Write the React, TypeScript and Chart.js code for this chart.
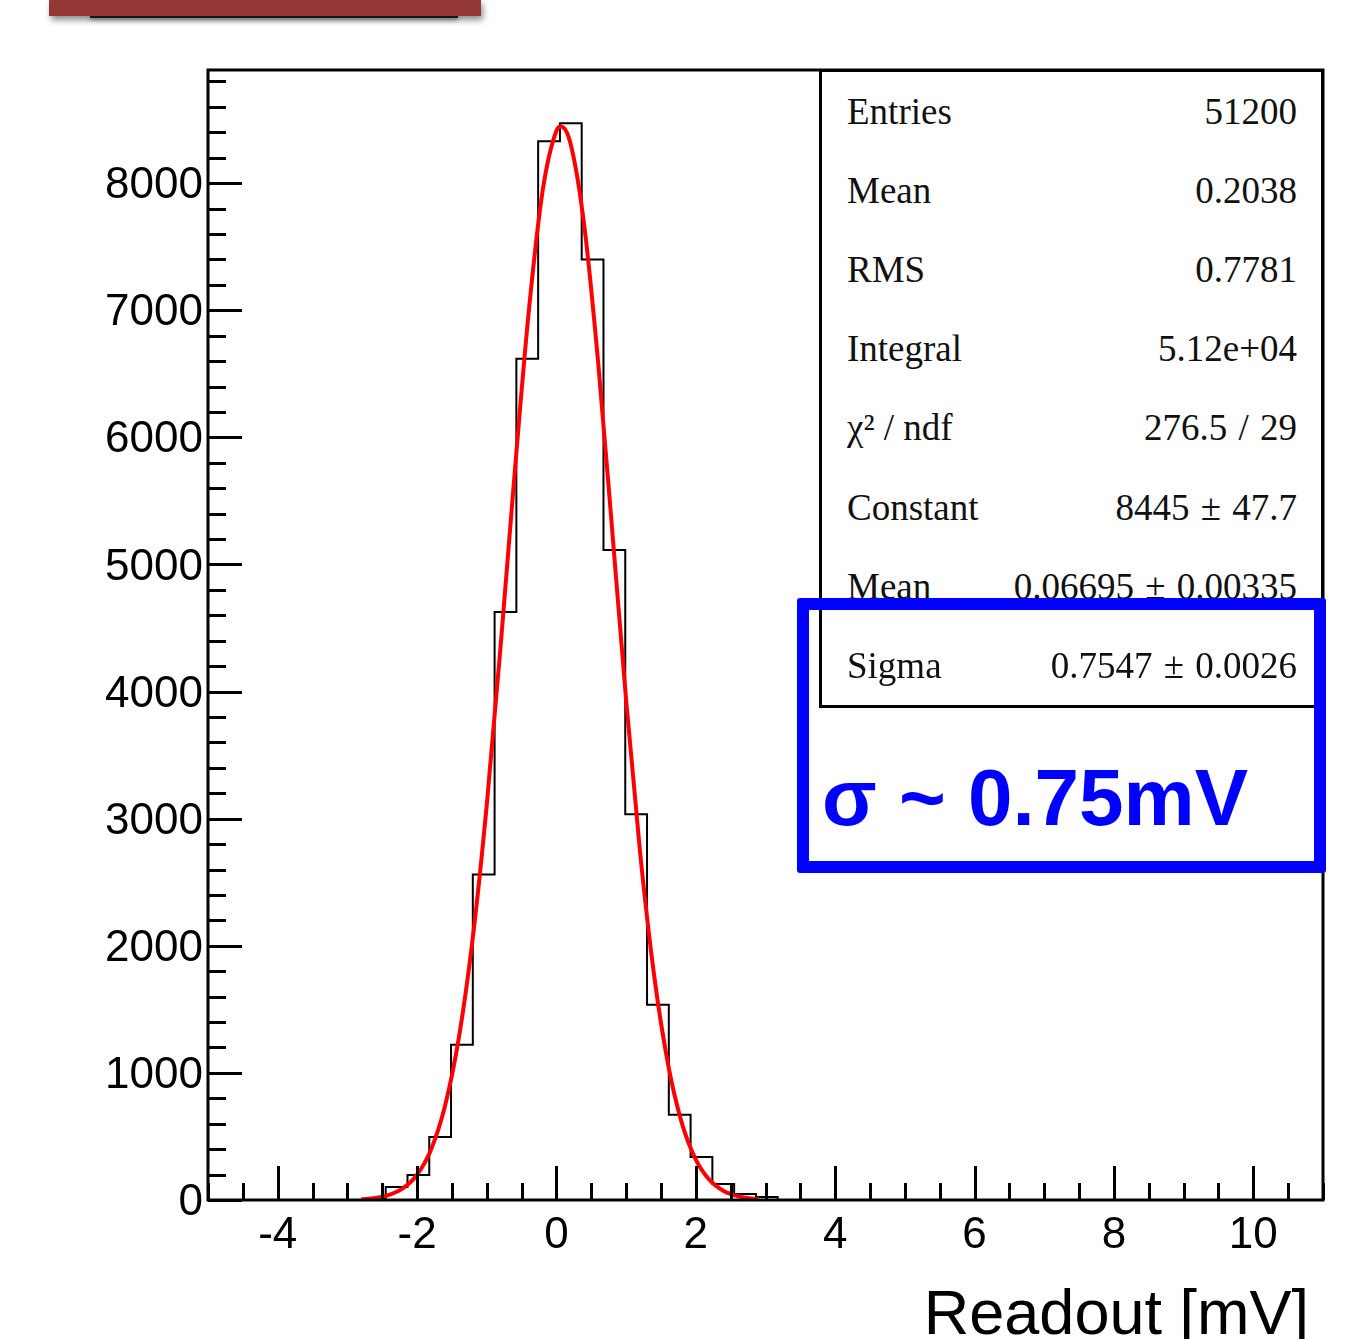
import React, { useEffect, useRef } from "react";
import { Chart, registerables } from "chart.js";

Chart.register(...registerables);

// ---- Data ----
const binLowEdges = [
  -2.7625, -2.45, -2.1375, -1.825, -1.5125, -1.2, -0.8875, -0.575, -0.2625,
  0.05, 0.3625, 0.675, 0.9875, 1.3, 1.6125, 1.925, 2.2375, 2.55, 2.8625,
];
const binUpperEdge = 3.175;
const binCounts = [
  8, 102, 197, 496, 1221, 2561, 4626, 6619, 8330,
  8471, 7400, 5114, 3034, 1537, 670, 339, 126, 47, 24,
];

const fitX = [
  -2.8, -2.6, -2.4, -2.2, -2.0, -1.8, -1.6, -1.4, -1.2, -1.0, -0.8, -0.6, -0.4,
  -0.2, 0.0, 0.067, 0.2, 0.4, 0.6, 0.8, 1.0, 1.2, 1.4, 1.6, 1.8, 2.0, 2.2, 2.4,
  2.6, 2.8, 2.9,
];
const fitY = [
  6, 16, 40, 93, 199, 396, 737, 1277, 2063, 3108, 4365, 5715, 6973,
  7933, 8412, 8445, 8315, 7662, 6581, 5270, 3933, 2737, 1775, 1073, 605, 318, 156, 71,
  30, 12, 7,
];

const xMajorTicks = [-4, -2, 0, 2, 4, 6, 8, 10];
const yMajorTicks = [0, 1000, 2000, 3000, 4000, 5000, 6000, 7000, 8000];
const xRange = [-5, 11];
const yRange = [0, 8890];
const xMinorStep = 0.5;
const yMinorStep = 200;

const statLabels = ["Entries", "Mean", "RMS", "Integral", "χ² / ndf", "Constant", "Mean", "Sigma"];
const statValues = [
  "51200",
  "0.2038",
  "0.7781",
  "5.12e+04",
  "276.5 / 29",
  "8445 ± 47.7",
  "0.06695 ± 0.00335",
  "0.7547 ± 0.0026",
];

const axisTitle = "Readout [mV]";
const annotation = "σ ~ 0.75mV";

const SANS = "'Liberation Sans', Arial, Helvetica, sans-serif";
const SERIF = "'Liberation Serif', 'Times New Roman', serif";

const framePlugin = {
  id: "rootFrame",
  afterDatasetsDraw(chart: any) {
    const { ctx, chartArea: a, scales } = chart;
    const xs = scales.x;
    const ys = scales.y;
    ctx.save();
    ctx.strokeStyle = "#000";
    ctx.lineWidth = 3;
    ctx.beginPath();
    for (let v = xRange[0]; v <= xRange[1] + 1e-9; v += xMinorStep) {
      const px = Math.round(xs.getPixelForValue(v)) + 0.5;
      const len = xMajorTicks.includes(v) ? 34 : 17;
      ctx.moveTo(px, a.bottom);
      ctx.lineTo(px, a.bottom - len);
    }
    for (let v = yRange[0]; v <= yRange[1] + 1e-9; v += yMinorStep) {
      const py = Math.round(ys.getPixelForValue(v)) + 0.5;
      const len = yMajorTicks.includes(v) ? 34 : 18;
      ctx.moveTo(a.left, py);
      ctx.lineTo(a.left + len, py);
    }
    ctx.stroke();
    ctx.strokeRect(a.left, a.top, a.right - a.left, a.bottom - a.top);
    ctx.restore();
  },
};

export default function App() {
  const ref = useRef<HTMLCanvasElement>(null);

  useEffect(() => {
    if (!ref.current) return;
    const histPts = [
      { x: binLowEdges[0], y: 0 },
      ...binLowEdges.map((x, i) => ({ x, y: binCounts[i] })),
      { x: binUpperEdge, y: 0 },
    ];
    const fitPts = fitX.map((x, i) => ({ x, y: fitY[i] }));

    const chart = new Chart(ref.current, {
      type: "line",
      data: {
        datasets: [
          {
            data: fitPts,
            borderColor: "#ff0000",
            borderWidth: 4,
            pointRadius: 0,
            cubicInterpolationMode: "monotone",
            fill: false,
          },
          {
            data: histPts,
            borderColor: "#000000",
            borderWidth: 2,
            pointRadius: 0,
            stepped: "before",
            fill: false,
          },
        ],
      },
      options: {
        animation: false,
        responsive: false,
        devicePixelRatio: 1,
        layout: { padding: { left: 0, right: 31, top: 70, bottom: 0 } },
        plugins: { legend: { display: false }, tooltip: { enabled: false } },
        scales: {
          x: {
            type: "linear",
            min: xRange[0],
            max: xRange[1],
            grid: { display: false, drawTicks: false },
            border: { display: false },
            afterBuildTicks: (s: any) => {
              s.ticks = xMajorTicks.map((v) => ({ value: v }));
            },
            afterFit: (s: any) => {
              s.height = 139;
            },
            ticks: {
              padding: 9,
              autoSkip: false,
              maxRotation: 0,
              color: "#000",
              font: { family: SANS, size: 44 },
              callback: (v: any) => String(v),
            },
          },
          y: {
            type: "linear",
            min: yRange[0],
            max: yRange[1],
            grid: { display: false, drawTicks: false },
            border: { display: false },
            afterBuildTicks: (s: any) => {
              s.ticks = yMajorTicks.map((v) => ({ value: v }));
            },
            afterFit: (s: any) => {
              s.width = 208;
            },
            ticks: {
              padding: 5,
              labelOffset: 3,
              autoSkip: false,
              color: "#000",
              font: { family: SANS, size: 44 },
              callback: (v: any) => String(v),
            },
          },
        },
      } as any,
      plugins: [framePlugin],
    });
    return () => chart.destroy();
  }, []);

  const rowCenter0 = 112;
  const rowStep = 79.1;

  return (
    <div
      style={{
        position: "absolute",
        left: 0,
        top: 0,
        width: 1354,
        height: 1339,
        overflow: "hidden",
        background: "#fff",
      }}
    >
      {/* top decoration bar */}
      <div
        style={{
          position: "absolute",
          left: 90,
          top: 14,
          width: 368,
          height: 4,
          background: "#222",
          boxShadow: "0 2px 4px rgba(0,0,0,0.4)",
        }}
      />
      <div
        style={{
          position: "absolute",
          left: 49,
          top: 0,
          width: 432,
          height: 16,
          background: "#953735",
          boxShadow: "2px 4px 6px rgba(0,0,0,0.45)",
        }}
      />

      <canvas
        ref={ref}
        width={1354}
        height={1339}
        style={{ position: "absolute", left: 0, top: 0, width: 1354, height: 1339 }}
      />

      {/* statistics box */}
      <div
        style={{
          position: "absolute",
          left: 819,
          top: 69,
          width: 505,
          height: 639,
          border: "3px solid #000",
          boxSizing: "border-box",
          background: "#fff",
          fontFamily: SERIF,
          fontSize: 37,
          color: "#111",
        }}
      >
        {statLabels.map((lab, i) => {
          const top = rowCenter0 + rowStep * i - 25 - 72;
          return (
            <div
              key={i}
              style={{
                position: "absolute",
                left: 25,
                right: 24,
                top,
                height: 50,
                lineHeight: "50px",
                whiteSpace: "nowrap",
              }}
            >
              <span style={{ position: "absolute", left: 0 }}>{lab}</span>
              <span style={{ position: "absolute", right: 0, wordSpacing: 2 }}>{statValues[i]}</span>
            </div>
          );
        })}
      </div>

      {/* blue highlight box */}
      <div
        style={{
          position: "absolute",
          left: 797,
          top: 598,
          width: 529,
          height: 275,
          border: "12px solid #0000ff",
          boxSizing: "border-box",
          borderRadius: 3,
        }}
      />
      <div
        style={{
          position: "absolute",
          left: 822,
          top: 757,
          fontFamily: SANS,
          fontWeight: "bold",
          fontSize: 80,
          lineHeight: "81px",
          color: "#0000ff",
          whiteSpace: "nowrap",
        }}
      >
        {annotation}
      </div>

      {/* x axis title */}
      <div
        style={{
          position: "absolute",
          right: 45,
          top: 1281,
          fontFamily: SANS,
          fontSize: 63,
          lineHeight: "63px",
          color: "#000",
          whiteSpace: "nowrap",
        }}
      >
        {axisTitle}
      </div>
    </div>
  );
}
